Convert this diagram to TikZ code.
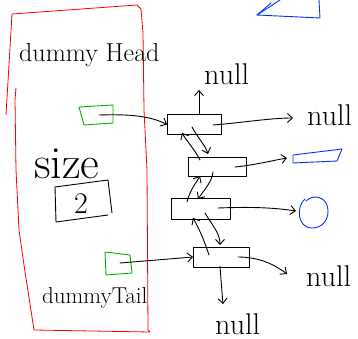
\documentclass[tikz,border=0pt]{standalone}
\usetikzlibrary{arrows.meta}
\begin{document}
\begin{tikzpicture}[x=1pt,y=-1pt,
  ink/.style={line width=0.9pt,line cap=round,line join=round},
  listbox/.style={draw,ink,rectangle,inner sep=0pt},
  link/.style={ink,-{Straight Barb[length=5pt,width=9pt]}},
  hand/.style={inner sep=0pt,font=\fontsize{#1}{#1}\selectfont},
  hand/.default=22]
\useasboundingbox (0,0) rectangle (358,339);

% dummy list container (red outline)
\draw[red,line width=0.8pt,line join=round] (6,115) -- (12,14) -- (137,5) -- (141,9) -- (143,33) -- (144,110) -- (147,170) -- (148,330) -- (150,332) -- (34,330) -- (24,265) -- (19,230) -- (16,170) -- (15,100) -- (16,88);

\node[hand=26,anchor=base west] (headlabel) at (19,62) {dummy Head};
\node[hand=46,anchor=base west] (sizelabel) at (34,178) {size};
\node[hand=23,anchor=base west] (taillabel) at (42,303) {dummyTail};

% size field
\draw[ink] (55,187) -- (108,180) -- (112,213);
\draw[ink] (55,187) -- (56,222) -- (108,215);
\node[hand=30,anchor=base] (sizeval) at (81,213) {2};

% head and tail pointer fields
\draw[green!70!black,ink] (79,107) -- (113,105) -- (113,123) -- (84,125) -- cycle;
\coordinate (headptr) at (99,115);
\draw[green!70!black,ink] (105,252) -- (130,255) -- (132,273) -- (106,275) -- cycle;
\coordinate (tailptr) at (120,263);

% list nodes
\node[listbox,minimum width=54pt,minimum height=20pt] (n1) at (194.5,124.5) {};
\node[listbox,minimum width=58pt,minimum height=19pt] (n2) at (217,167) {};
\node[listbox,minimum width=59pt,minimum height=21pt] (n3) at (200.5,209) {};
\node[listbox,minimum width=56pt,minimum height=20pt] (n4) at (221.5,257) {};

% targets
\node[hand=30,anchor=base west] (nullA) at (204,85) {null};
\node[hand=30,anchor=base west] (nullB) at (307,126) {null};
\node[hand=30,anchor=base west] (nullC) at (306,286) {null};
\node[hand=30,anchor=base west] (nullD) at (215,334) {null};
\draw[blue!80!cyan,ink] (293,155) -- (342,149) -- (337,161) -- (293,163) -- cycle;
\coordinate (val2) at (291,160);
\draw[blue!80!cyan,ink] (305,199) .. controls (296,206) and (297,228) .. (312,228) .. controls (327,228) and (331,212) .. (326,203) .. controls (322,196) and (312,195) .. (306,201);
\coordinate (val3) at (296,211);
\draw[blue!80!cyan,ink] (280,0) -- (257,15) -- (320,18) -- (319,0);
\draw[blue!80!cyan,ink] (257,15) -- (271,3);

% pointers
\draw[link] (headptr) .. controls (130,114) and (150,116) .. (n1.west);
\draw[link] (tailptr) -- (n4.west);
\draw[link] (199,114) -- (199,90);
\draw[link] (213,125) .. controls (240,123) and (270,118) .. (293,118);
\draw[link] (192,127) .. controls (198,138) and (205,145) .. (208,154);
\draw[link] (200,160) .. controls (195,150) and (186,140) .. (182,133);
\draw[link] (235,167) .. controls (255,165) and (275,160) .. (287,158);
\draw[link] (213,172) .. controls (212,182) and (204,190) .. (198,199);
\draw[link] (187,202) .. controls (190,190) and (196,183) .. (200,176);
\draw[link] (218,208) .. controls (245,207) and (270,207) .. (val3);
\draw[link] (205,213) .. controls (212,225) and (220,233) .. (220,245);
\draw[link] (209,255) .. controls (205,243) and (200,230) .. (193,218);
\draw[link] (238,257) .. controls (260,257) and (275,265) .. (287,274);
\draw[link] (220,266) .. controls (221,280) and (222,292) .. (223,304);
\end{tikzpicture}
\end{document}
